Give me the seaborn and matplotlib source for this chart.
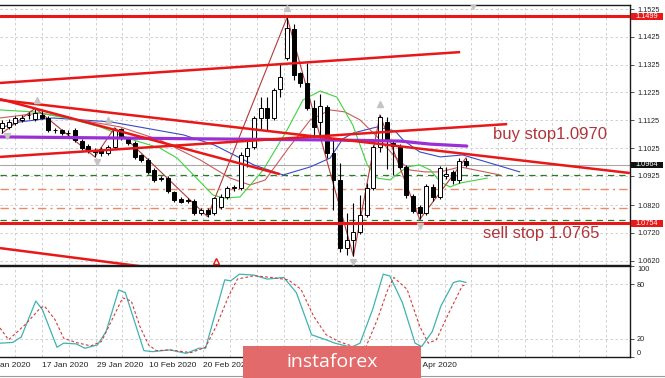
import numpy as np
import pandas as pd
import matplotlib
matplotlib.use("Agg")
import matplotlib.pyplot as plt
import matplotlib.transforms as mtransforms
from matplotlib.patches import Rectangle
import seaborn as sns

# ---------------- data (EURUSD daily) ----------------
bar_idx = list(range(71))
opens = [1.1097, 1.1101, 1.1115, 1.1126, 1.1142, 1.1129, 1.1144, 1.1133, 1.1091, 1.1090,
         1.1078, 1.1090, 1.1050, 1.1032, 1.1018, 1.1021, 1.1007, 1.1029, 1.1093, 1.1057,
         1.1043, 1.1000, 1.0982, 1.0946, 1.0914, 1.0917, 1.0867, 1.0842, 1.0838, 1.0834,
         1.0791, 1.0802, 1.0791, 1.0813, 1.0849, 1.0881, 1.0881, 1.0996, 1.1029, 1.1133,
         1.1169, 1.1133, 1.1237, 1.1349, 1.1453, 1.1295, 1.1259, 1.1169, 1.1119, 1.1172,
         1.1007, 1.0910, 1.0665, 1.0694, 1.0723, 1.0784, 1.0881, 1.1029, 1.1119, 1.1043,
         1.1032, 1.0957, 1.0852, 1.0813, 1.0791, 1.0885, 1.0849, 1.0924, 1.0939, 1.0910,
         1.0978]
highs = [1.1125, 1.1128, 1.1140, 1.1144, 1.1155, 1.1168, 1.1162, 1.1140, 1.1098, 1.1095,
         1.1090, 1.1098, 1.1056, 1.1038, 1.1024, 1.1028, 1.1036, 1.1098, 1.1098, 1.1063,
         1.1050, 1.1005, 1.0988, 1.0952, 1.0925, 1.0925, 1.0872, 1.0848, 1.0845, 1.0840,
         1.0810, 1.0808, 1.0850, 1.0860, 1.0890, 1.0892, 1.1010, 1.1054, 1.1140, 1.1209,
         1.1209, 1.1240, 1.1331, 1.1495, 1.1470, 1.1300, 1.1331, 1.1198, 1.1220, 1.1180,
         1.1061, 1.0970, 1.0791, 1.0827, 1.0856, 1.0899, 1.1035, 1.1144, 1.1137, 1.1055,
         1.1040, 1.0965, 1.0860, 1.0820, 1.0897, 1.0895, 1.0960, 1.0955, 1.0945, 1.0990,
         1.0990]
lows = [1.1078, 1.1095, 1.1108, 1.1118, 1.1130, 1.1122, 1.1128, 1.1083, 1.1080, 1.1072,
        1.1070, 1.1045, 1.1018, 1.1008, 1.0993, 1.0996, 1.1000, 1.1022, 1.1054, 1.1036,
        1.0985, 1.0975, 1.0932, 1.0903, 1.0905, 1.0862, 1.0832, 1.0826, 1.0828, 1.0785,
        1.0784, 1.0778, 1.0785, 1.0806, 1.0842, 1.0872, 1.0875, 1.0957, 1.1020, 1.1090,
        1.1090, 1.1125, 1.1209, 1.1340, 1.1270, 1.1245, 1.1160, 1.1060, 1.1065, 1.0990,
        1.0802, 1.0651, 1.0640, 1.0636, 1.0715, 1.0776, 1.0875, 1.1010, 1.0950, 1.0928,
        1.0950, 1.0845, 1.0790, 1.0768, 1.0785, 1.0835, 1.0840, 1.0915, 1.0895, 1.0900,
        1.0958]
closes = [1.1115, 1.1119, 1.1133, 1.1133, 1.1145, 1.1151, 1.1133, 1.1090, 1.1089, 1.1079,
          1.1080, 1.1054, 1.1025, 1.1014, 1.1011, 1.1007, 1.1029, 1.1090, 1.1061, 1.1043,
          1.0993, 1.0982, 1.0939, 1.0910, 1.0917, 1.0870, 1.0838, 1.0831, 1.0836, 1.0791,
          1.0802, 1.0788, 1.0845, 1.0849, 1.0881, 1.0883, 1.1000, 1.1025, 1.1133, 1.1169,
          1.1133, 1.1234, 1.1280, 1.1457, 1.1288, 1.1259, 1.1169, 1.1101, 1.1176, 1.1007,
          1.0910, 1.0665, 1.0694, 1.0723, 1.0784, 1.0881, 1.1029, 1.1137, 1.1054, 1.1032,
          1.0957, 1.0856, 1.0798, 1.0791, 1.0888, 1.0849, 1.0953, 1.0932, 1.0910, 1.0978,
          1.0964]

# Alligator-style moving averages (bar, price)
jaw_bar = [-0.3, 2.7, 7.7, 16.4, 27.4, 32.0, 38.0, 42.4, 46.5, 49.5, 51.4, 53.0, 56.6,
           59.3, 60.5, 63.0, 66.1, 69.5, 73.6, 78.1]
jaw_px = [1.1097, 1.1119, 1.1133, 1.1119, 1.1072, 1.1036, 1.0964, 1.0928, 1.0957, 1.0989,
          1.1058, 1.1079, 1.1101, 1.1086, 1.1054, 1.1011, 1.0993, 1.1000, 1.0971, 1.0939]
teeth_bar = [-0.3, 5.7, 11.8, 17.8, 23.8, 29.9, 34.4, 37.4, 39.7, 43.0, 46.5, 49.5, 51.7,
             54.0, 56.6, 59.3, 61.5, 63.8, 66.1, 69.1, 75.1]
teeth_px = [1.1133, 1.1151, 1.1126, 1.1101, 1.1054, 1.0982, 1.0917, 1.0892, 1.0910, 1.1018,
            1.1126, 1.1162, 1.1155, 1.1126, 1.1065, 1.0993, 1.0946, 1.0939, 1.0939, 1.0957,
            1.0928]
lips_bar = [-0.3, 4.7, 9.8, 14.8, 19.8, 23.8, 26.4, 29.9, 31.8, 33.6, 35.9, 39.4, 43.0,
            45.4, 48.0, 50.5, 52.9, 55.1, 56.6, 58.5, 61.1, 63.0, 64.6, 66.1, 67.6, 69.1, 73.2]
lips_px = [1.1162, 1.1155, 1.1133, 1.1101, 1.1054, 1.1025, 1.0989, 1.0903, 1.0856, 1.0845,
           1.0849, 1.0946, 1.1090, 1.1198, 1.1230, 1.1208, 1.1108, 1.0964, 1.0917, 1.0910,
           1.0957, 1.0964, 1.0946, 1.0903, 1.0885, 1.0899, 1.0917]
slow_bar = [-0.3, 29.9, 49.5, 60.0, 64.6, 70.1]
slow_px = [1.1065, 1.1058, 1.1054, 1.1050, 1.1039, 1.1032]

# ZigZag swing points
zz_bar = [0, 5, 14, 17, 31, 43, 53, 57, 63, 70]
zz_px = [1.1078, 1.1168, 1.0993, 1.1098, 1.0778, 1.1495, 1.0636, 1.1144, 1.0768, 1.0990]
peak_bar = [5.3, 16.0, 43.0, 57.0]
peak_px = [1.1198, 1.1126, 1.1529, 1.1183]
trough_bar = [0.8, 14.3, 53.0, 63.0, 71.0]
trough_px = [1.1068, 1.0975, 1.0615, 1.0744, 1.1536]

# trend lines (start bar, start price, end bar, end price)
trend_lines = [(-0.3, 1.1259, 69.1, 1.1370),
               (-0.3, 1.1198, 94.7, 1.0935),
               (-0.3, 1.1201, 41.9, 1.0931),
               (-0.3, 1.0993, 76.2, 1.1111),
               (-0.3, 1.0665, 20.8, 1.0600)]
red_levels = [1.1499, 1.0754]
green_levels = [1.0927, 1.0766]
orange_levels = [1.0878, 1.0809]
last_price = 1.0964

price_ticks = [1.1525, 1.1425, 1.1325, 1.1225, 1.1125, 1.1025, 1.0925, 1.0820, 1.0720, 1.0620]
price_tick_labels = ["1.1525", "1.1425", "1.1325", "1.1225", "1.1125", "1.1025", "1.0925",
                     "1.0820", "1.0720", "1.0620"]

# Stochastic oscillator
k_bar = [-0.3, 1.6, 2.9, 5.1, 6.1, 8.3, 9.3, 11.2, 12.5, 14.4, 15.7, 17.6, 18.6, 21.4, 22.7,
         25.3, 27.8, 29.7, 30.7, 33.6, 34.5, 35.8, 38.0, 40.0, 42.5, 44.4, 46.7, 48.9, 50.2,
         52.7, 54.0, 55.9, 57.5, 58.5, 60.4, 62.3, 63.3, 64.9, 66.2, 68.1, 69.0, 70.0]
k_val = [15.2, 16.0, 21.9, 61.5, 52.0, 10.7, 15.2, 14.4, 9.6, 13.3, 28.0, 73.7, 70.7, 7.0,
         5.9, 7.8, 4.0, 9.6, 9.6, 84.8, 83.7, 91.0, 90.0, 85.6, 87.4, 70.7, 24.4, 18.9, 15.2,
         10.7, 15.2, 52.2, 91.0, 89.0, 59.6, 15.2, 11.5, 28.0, 56.0, 81.9, 83.7, 81.9]
d_bar = [-0.3, 1.0, 3.5, 5.8, 6.4, 8.0, 9.3, 11.2, 13.4, 15.0, 16.6, 18.2, 19.5, 20.8, 22.1,
         23.3, 25.3, 28.5, 30.7, 32.3, 34.2, 35.5, 38.0, 40.6, 43.2, 45.1, 47.0, 48.9, 50.8,
         52.7, 54.7, 56.6, 58.2, 59.1, 61.1, 63.0, 64.3, 65.5, 67.4, 69.4, 70.0]
d_val = [31.9, 18.9, 35.6, 54.0, 56.0, 41.0, 20.7, 15.9, 12.2, 17.0, 41.0, 65.0, 61.5, 33.7,
         13.3, 7.0, 7.8, 4.8, 10.7, 33.7, 67.0, 85.6, 89.3, 87.4, 84.8, 74.4, 44.8, 24.4, 17.0,
         12.2, 7.8, 41.0, 74.4, 87.4, 74.4, 33.7, 15.2, 18.9, 48.5, 78.0, 80.0]

# visible date labels (the others sit under the watermark in the reference)
date_labels = ["an 2020", "17 Jan 2020", "29 Jan 2020", "10 Feb 2020", "20 Feb 2020",
               "6 Apr 2020"]
date_pos = [-0.3, 6.0, 14.3, 22.2, 30.3, 62.4]

# ---------------- styling ----------------
sns.set_theme(style="white")
plt.rcParams['font.family'] = ['Liberation Sans', 'DejaVu Sans']

W, H = 665, 378
fig = plt.figure(figsize=(W / 100, H / 100), dpi=100)
fig.patch.set_facecolor('white')
ax = fig.add_axes([0, 1 - 265 / H, 630 / W, 260 / H])
ax2 = fig.add_axes([0, 1 - 357 / H, 630 / W, 91 / H])

XMIN, XMAX = -0.30, 94.72
YMIN, YMAX = 1.06042, 1.15394
for a in (ax, ax2):
    a.set_xlim(XMIN, XMAX)
    a.set_facecolor('white')
    a.spines['left'].set_visible(False)
    for s in ('right', 'bottom', 'top'):
        a.spines[s].set_color('#1a1a1a')
        a.spines[s].set_linewidth(1.0)
    a.set_xticks([])
ax.set_ylim(YMIN, YMAX)
ax2.set_ylim(0, 100)

grid_kw = dict(color='#c9c9c9', lw=0.6, ls=(0, (3, 3)), zorder=0.5)
for g in np.arange(1.96, XMAX, 4.05):
    ax.axvline(g, **grid_kw)
    ax2.axvline(g, **grid_kw)
for t in price_ticks:
    ax.axhline(t, **grid_kw)
for t in (20, 80):
    ax2.axhline(t, **grid_kw)

# horizontal levels
ax.axhline(last_price, color='#a8a8a8', lw=0.8, zorder=1)
for lv in green_levels:
    ax.axhline(lv, color='#2a7a2a', lw=0.9, ls=(0, (5, 4)), zorder=1.2)
for lv in orange_levels:
    ax.axhline(lv, color='#ec8a66', lw=1.0, ls=(0, (6, 3, 1.5, 3)), zorder=1.2)

# moving averages
sns.lineplot(x=jaw_bar, y=jaw_px, ax=ax, color='#3a48c8', lw=0.8, sort=False,
             estimator=None, zorder=3)
sns.lineplot(x=teeth_bar, y=teeth_px, ax=ax, color='#cc5a5a', lw=0.8, sort=False,
             estimator=None, zorder=3)
sns.lineplot(x=lips_bar, y=lips_px, ax=ax, color='#3ed43e', lw=0.8, sort=False,
             estimator=None, zorder=3)
sns.lineplot(x=zz_bar, y=zz_px, ax=ax, color='#b23a3a', lw=0.8, sort=False,
             estimator=None, zorder=3.2)

# candles
df = pd.DataFrame({'bar': bar_idx, 'open': opens, 'high': highs, 'low': lows, 'close': closes})
bull = df['close'] >= df['open']
bottoms = np.minimum(df['open'], df['close'])
heights = np.maximum(np.abs(df['close'] - df['open']), 0.00012)
ax.vlines(df['bar'], df['low'], df['high'], color='black', lw=0.8, zorder=4)
ax.bar(df['bar'], heights, bottom=bottoms, width=0.6,
       color=np.where(bull, 'white', 'black'), edgecolor='black', linewidth=0.7, zorder=4.5)

# drawn objects
sns.lineplot(x=slow_bar, y=slow_px, ax=ax, color='#9a2fd6', lw=2.3, sort=False,
             estimator=None, zorder=5)
for (x0, y0, x1, y1) in trend_lines:
    ax.plot([x0, x1], [y0, y1], color='#e81818', lw=1.8, zorder=5.5, solid_capstyle='butt')
for lv in red_levels:
    ax.axhline(lv, color='#e81818', lw=2.2, zorder=5.5)

ax.plot(peak_bar, peak_px, ls='none', marker='^', ms=4.5, color='#c4c4c4', zorder=6)
ax.plot(trough_bar, trough_px, ls='none', marker='v', ms=4.5, color='#c4c4c4', zorder=6)
ax.plot([32.3], [1.0620], ls='none', marker='^', ms=5, mfc='none', mec='#e81818', mew=1.0, zorder=6)

ax.text(74.1, 1.1072, "buy stop1.0970", color='#b0343c', fontsize=12, va='center', ha='left', zorder=7)
ax.text(72.5, 1.0719, "sell stop 1.0765", color='#b0343c', fontsize=12, va='center', ha='left', zorder=7)

# right price axis
ax.yaxis.tick_right()
ax.set_yticks(price_ticks)
ax.set_yticklabels(price_tick_labels)
ax.tick_params(axis='y', which='both', right=True, length=3, width=0.6, color='#333333',
               labelsize=5.3, labelcolor='#222222', pad=2)
ax.set_ylabel('')
ax.set_xlabel('')

trans = mtransforms.blended_transform_factory(ax.transAxes, ax.transData)
box_w = 32 / 630
for val, fc in ((1.1499, '#e81818'), (last_price, '#111111'), (1.0754, '#e81818')):
    ax.add_patch(Rectangle((1.0016, val - 0.00122), box_w, 0.00244, transform=trans,
                           fc=fc, ec='none', clip_on=False, zorder=8))
    ax.text(1.0016 + box_w / 2, val, f"{val:.4f}", transform=trans, color='white',
            fontsize=5.3, ha='center', va='center', clip_on=False, zorder=9)

# stochastic panel
sns.lineplot(x=k_bar, y=k_val, ax=ax2, color='#3fb3b0', lw=0.9, sort=False, estimator=None, zorder=3)
sns.lineplot(x=d_bar, y=d_val, ax=ax2, color='#d63a3a', lw=0.8, sort=False, estimator=None,
             zorder=3, linestyle=(0, (2.5, 2)))
ax2.yaxis.tick_right()
ax2.set_yticks([100, 80, 20, 0])
ax2.set_yticklabels(["100", "80", "20", "0"])
ax2.tick_params(axis='y', right=True, length=3, width=0.6, color='#333333',
                labelsize=5.3, labelcolor='#222222', pad=2)
labs = ax2.get_yticklabels()
labs[0].set_va('top')
labs[3].set_va('bottom')
ax2.set_ylabel('')
ax2.set_xlabel('')

# date labels
dtrans = mtransforms.blended_transform_factory(ax2.transData, ax2.transAxes)
for lab, pos in zip(date_labels, date_pos):
    ax2.text(pos, -0.09, lab, transform=dtrans, fontsize=6.0, color='#222222',
             ha='left', va='center', clip_on=False)

# bottom frame line
fig.add_artist(plt.Line2D([0, 1], [1 - 375.5 / H, 1 - 375.5 / H], transform=fig.transFigure,
                          color='#9a9a9a', lw=0.8))

# watermark
fig.add_artist(Rectangle((243 / W, 0), (421 - 243) / W, (378 - 346) / H, transform=fig.transFigure,
                         fc='#e36a6a', ec='none', zorder=20))
fig.text(332 / W, 1 - 362 / H, "instaforex", color='white', fontsize=14, ha='center',
         va='center', zorder=21, family=['Open Sans', 'DejaVu Sans'])

fig.savefig("out.png", dpi=100, facecolor='white')
